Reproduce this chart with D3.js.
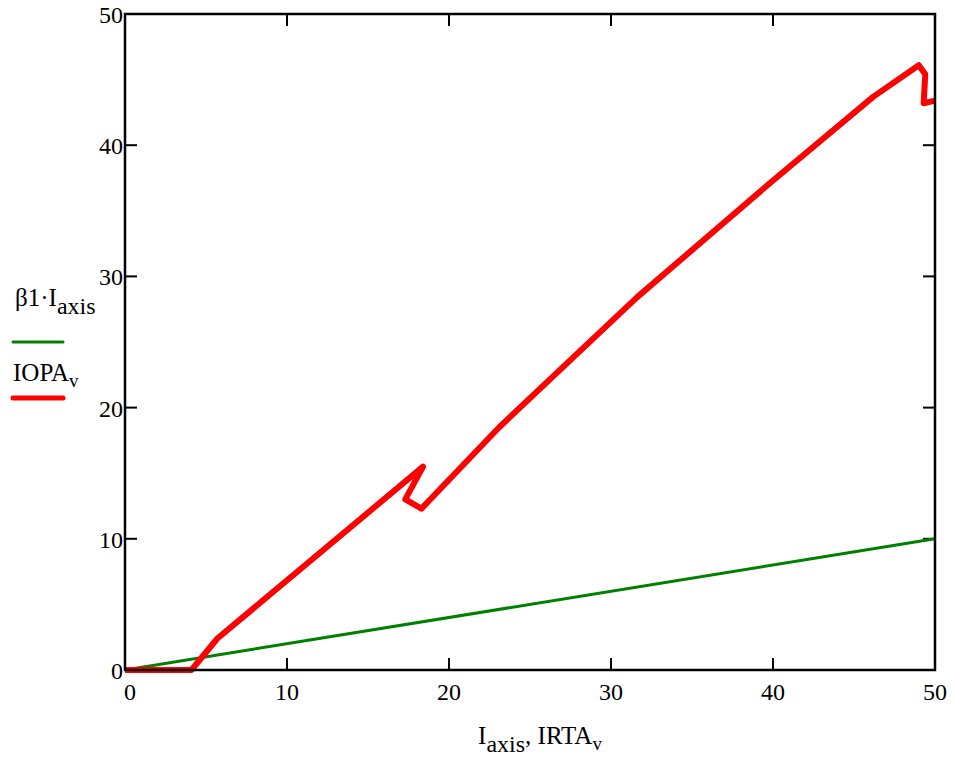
<!DOCTYPE html>
<html>
<head>
<meta charset="utf-8">
<script src="https://cdn.jsdelivr.net/npm/d3@7"></script>
<style>
  body { margin: 0; background: #fff; }
  text { font-family: "Liberation Serif", "Times New Roman", serif; fill: #000; }
</style>
</head>
<body>
<div id="chart"></div>
<script>
// data
const xTicks = [0, 10, 20, 30, 40, 50]
const yTicks = [0, 10, 20, 30, 40, 50]
const beta1 = 0.2
const greenX = [0, 50]
const greenY = greenX.map(v => beta1 * v)
const redX = [0, 4.1, 5.7, 18.4, 17.3, 18.3, 23.1, 31.6, 39.8, 46.2, 49.0, 49.4, 49.3, 50]
const redY = [0, 0, 2.4, 15.5, 13.0, 12.3, 18.5, 28.4, 37.1, 43.7, 46.1, 45.4, 43.2, 43.4]

const W = 956, H = 757
const m = { left: 125, right: 21, top: 14, bottom: 87 }

const svg = d3.select('#chart').append('svg')
    .attr('width', W).attr('height', H)

const x = d3.scaleLinear().domain([0, 50]).range([m.left, W - m.right])
const y = d3.scaleLinear().domain([0, 50]).range([H - m.bottom, m.top])

const tick = 12

// ticks on all four sides, pointing inward
const g = svg.append('g').attr('stroke', '#000').attr('stroke-width', 2)
xTicks.slice(1, -1).forEach(t => {
    g.append('line').attr('x1', x(t)).attr('x2', x(t)).attr('y1', y(0)).attr('y2', y(0) - tick)
    g.append('line').attr('x1', x(t)).attr('x2', x(t)).attr('y1', y(50)).attr('y2', y(50) + tick)
})
yTicks.slice(1, -1).forEach(t => {
    g.append('line').attr('x1', x(0)).attr('x2', x(0) + tick).attr('y1', y(t)).attr('y2', y(t))
    g.append('line').attr('x1', x(50)).attr('x2', x(50) - tick).attr('y1', y(t)).attr('y2', y(t))
})

// tick labels
svg.append('g').selectAll('text').data(xTicks).join('text')
    .attr('x', d => x(d) + (d === 0 ? 5 : 0)).attr('y', y(0) + 30)
    .attr('text-anchor', 'middle').attr('font-size', 24)
    .text(d => d)
svg.append('g').selectAll('text').data(yTicks).join('text')
    .attr('x', x(0) - 2).attr('y', d => y(d) + 9)
    .attr('text-anchor', 'end').attr('font-size', 24)
    .text(d => d)

const line = d3.line().x(d => x(d[0])).y(d => y(d[1]))

svg.append('path')
    .datum(greenX.map((v, i) => [v, greenY[i]]))
    .attr('d', line)
    .attr('fill', 'none').attr('stroke', '#008000').attr('stroke-width', 3)

svg.append('path')
    .datum(redX.map((v, i) => [v, redY[i]]))
    .attr('d', line)
    .attr('fill', 'none').attr('stroke', '#ff0000').attr('stroke-width', 6)
    .attr('stroke-linejoin', 'round').attr('stroke-linecap', 'butt')

// frame
svg.append('rect')
    .attr('x', x(0)).attr('y', y(50))
    .attr('width', x(50) - x(0)).attr('height', y(0) - y(50))
    .attr('fill', 'none').attr('stroke', '#000').attr('stroke-width', 2.5)

// legend
const leg = svg.append('g')
const t1 = leg.append('text').attr('x', 15).attr('y', 306).attr('font-size', 25)
t1.append('tspan').text('β1·I')
t1.append('tspan').attr('dy', 8).attr('font-size', 24).text('axis')
leg.append('line').attr('x1', 13).attr('x2', 63).attr('y1', 342).attr('y2', 342)
    .attr('stroke', '#008000').attr('stroke-width', 3).attr('stroke-linecap', 'round')
const t2 = leg.append('text').attr('x', 13).attr('y', 381).attr('font-size', 25)
t2.append('tspan').text('IOPA')
t2.append('tspan').attr('dy', 6).attr('font-size', 19).text('v')
leg.append('line').attr('x1', 13).attr('x2', 63).attr('y1', 398).attr('y2', 398)
    .attr('stroke', '#ff0000').attr('stroke-width', 5).attr('stroke-linecap', 'round')

// x axis title
const xt = svg.append('text').attr('x', 540).attr('y', 744).attr('text-anchor', 'middle').attr('font-size', 25)
xt.append('tspan').text('I')
xt.append('tspan').attr('dy', 8).attr('font-size', 24).text('axis')
xt.append('tspan').attr('dy', -8).text(', IRTA')
xt.append('tspan').attr('dy', 6).attr('font-size', 19).text('v')
</script>
</body>
</html>
